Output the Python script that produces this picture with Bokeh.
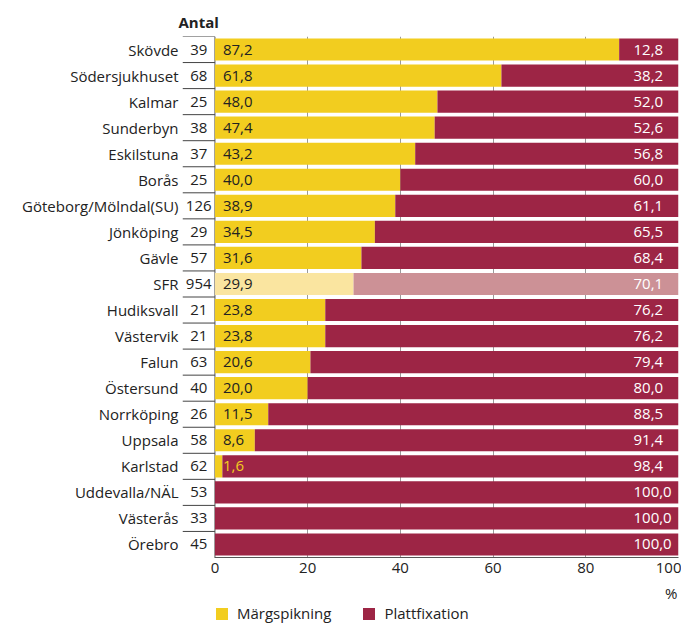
from bokeh.plotting import figure
from bokeh.layouts import column
from bokeh.models import (ColumnDataSource, Range1d, FixedTicker, Title, Legend, LegendItem, Label)
from bokeh.core.properties import value
from bokeh.embed import file_html
from bokeh.resources import INLINE

hospitals = ["Skövde", "Södersjukhuset", "Kalmar", "Sunderbyn", "Eskilstuna", "Borås",
             "Göteborg/Mölndal(SU)", "Jönköping", "Gävle", "SFR", "Hudiksvall", "Västervik",
             "Falun", "Östersund", "Norrköping", "Uppsala", "Karlstad", "Uddevalla/NÄL",
             "Västerås", "Örebro"]
antal = [39, 68, 25, 38, 37, 25, 126, 29, 57, 954, 21, 21, 63, 40, 26, 58, 62, 53, 33, 45]
margspikning = [87.2, 61.8, 48.0, 47.4, 43.2, 40.0, 38.9, 34.5, 31.6, 29.9, 23.8, 23.8,
                20.6, 20.0, 11.5, 8.6, 1.6, 0.0, 0.0, 0.0]
plattfixation = [12.8, 38.2, 52.0, 52.6, 56.8, 60.0, 61.1, 65.5, 68.4, 70.1, 76.2, 76.2,
                 79.4, 80.0, 88.5, 91.4, 98.4, 100.0, 100.0, 100.0]
x_ticks = [0, 20, 40, 60, 80, 100]
series_names = ["Märgspikning", "Plattfixation"]

YEL = "#F2CD1F"
RED = "#9D2545"
YEL_L = "#FAE5A0"
RED_L = "#CC9196"
FONT = "Open Sans"
FS = "15px"
TXT = "#222222"

n = len(hospitals)
ys = [n - i - 0.5 for i in range(n)]

def fmt(v):
    return f"{v:.1f}".replace(".", ",")

src = ColumnDataSource(dict(
    y=ys,
    name=hospitals,
    antal=[str(a) for a in antal],
    m=margspikning,
    p=plattfixation,
    total=[m + p for m, p in zip(margspikning, plattfixation)],
    ycol=[YEL_L if h == "SFR" else YEL for h in hospitals],
    rcol=[RED_L if h == "SFR" else RED for h in hospitals],
))

p = figure(width=681, height=582, output_backend="svg", toolbar_location=None,
           x_range=Range1d(-7, 100), y_range=Range1d(0, n),
           min_border_left=182, min_border_right=3, min_border_top=36, min_border_bottom=25)
p.outline_line_color = None
p.background_fill_color = "white"

# grid
p.xgrid.ticker = FixedTicker(ticks=x_ticks[1:])
p.xgrid.grid_line_color = "#9a9a9a"
p.xgrid.grid_line_width = 1
p.ygrid.grid_line_color = None

# left line at 0
p.segment(x0=[0], y0=[0], x1=[0], y1=[n], line_color="#555555", line_width=1)

# antal column separators
sep_y = [float(k) for k in range(1, n + 1)]
p.segment(x0=[-7] * len(sep_y), y0=sep_y, x1=[0] * len(sep_y), y1=sep_y,
          line_color="#444444", line_width=1)

p.hbar(y="y", left=0, right="m", height=0.85, fill_color="ycol", line_color=None, source=src)
p.hbar(y="y", left="m", right="total", height=0.85, fill_color="rcol", line_color=None, source=src)

# labels
lab_m = ColumnDataSource(dict(
    x=[0] * n, y=ys,
    t=[fmt(v) if v > 0 else "" for v in margspikning],
    c=[YEL if v < 5 else TXT for v in margspikning],
))
p.text(x="x", y="y", text="t", source=lab_m, x_offset=8, text_align="left", text_baseline="middle",
       text_color="c", text_font=value(FONT), text_font_size=FS)
lab_p = ColumnDataSource(dict(x=[100] * n, y=ys, t=[fmt(v) for v in plattfixation]))
p.text(x="x", y="y", text="t", source=lab_p, x_offset=-45, text_align="left", text_baseline="middle",
       text_color="white", text_font=value(FONT), text_font_size=FS)
p.text(x=[-3.5] * n, y=ys, text=src.data["antal"], text_align="center", text_baseline="middle",
       text_color=TXT, text_font=value(FONT), text_font_size=FS)

# axes
xa = p.xaxis[0]
xa.ticker = FixedTicker(ticks=x_ticks)
xa.bounds = (0, 100)
xa.axis_line_color = "#555555"
xa.major_tick_line_color = None
xa.minor_tick_line_color = None
xa.major_tick_out = 0
xa.major_tick_in = 0
xa.major_label_standoff = 5
xa.major_label_text_font = FONT
xa.major_label_text_font_size = FS
xa.major_label_text_color = TXT

ya = p.yaxis[0]
ya.ticker = FixedTicker(ticks=ys)
ya.major_label_overrides = {y: h for y, h in zip(ys, hospitals)}
ya.axis_line_color = None
ya.major_tick_line_color = None
ya.minor_tick_line_color = None
ya.major_tick_out = 0
ya.major_tick_in = 0
ya.major_label_standoff = 4
ya.major_label_text_font = FONT
ya.major_label_text_font_size = FS
ya.major_label_text_color = TXT

p.add_layout(Title(text="Antal", align="left", offset=-4, standoff=9, text_font=FONT,
                   text_font_size=FS, text_font_style="bold", text_color=TXT), "above")

# bottom strip: unit label and legend (its y range lies far above the bars, so they stay hidden)
p2 = figure(width=681, height=43, output_backend="svg", toolbar_location=None,
            x_range=Range1d(-7, 100), y_range=Range1d(100, 143),
            min_border_left=182, min_border_right=3, min_border_top=0, min_border_bottom=0,
            x_axis_location=None, y_axis_location=None)
p2.outline_line_color = None
p2.xgrid.grid_line_color = None
p2.ygrid.grid_line_color = None

p2.add_layout(Label(x=100, y=133, x_offset=-1, text="%", text_align="right", text_baseline="middle",
                    text_font=FONT, text_font_size=FS, text_color=TXT))

ry = p2.hbar(y="y", left=0, right="m", height=0.85, fill_color=YEL, line_color=None, source=src)
rr = p2.hbar(y="y", left="m", right="total", height=0.85, fill_color=RED, line_color=None, source=src)
legend = Legend(items=[LegendItem(label=series_names[0], renderers=[ry]),
                       LegendItem(label=series_names[1], renderers=[rr])],
                location=(32, 2), orientation="horizontal", glyph_width=15, glyph_height=15,
                label_standoff=8, spacing=30, padding=0, margin=0, border_line_color=None,
                background_fill_alpha=0, label_text_font=FONT, label_text_font_size=FS,
                label_text_color=TXT, label_height=15)
p2.add_layout(legend, "center")

open("out.html", "w").write(file_html(column(p, p2, spacing=0), INLINE))
